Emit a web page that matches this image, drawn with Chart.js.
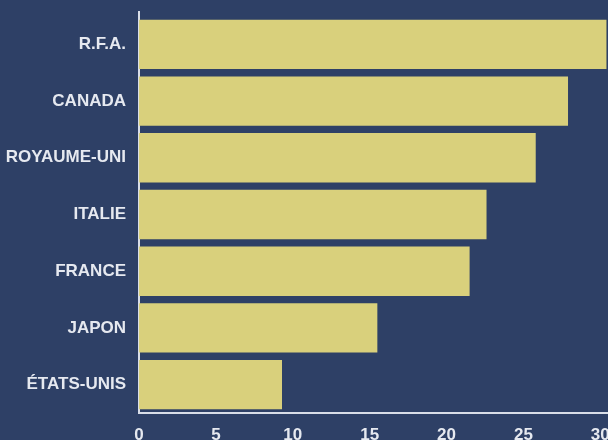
<!DOCTYPE html>
<html>
<head>
<meta charset="utf-8">
<script src="https://cdn.jsdelivr.net/npm/chart.js@4"></script>
<style>
  html, body { margin: 0; padding: 0; background: #2e4066; }
  #wrap { width: 608px; height: 440px; }
</style>
</head>
<body>
<div id="wrap"><canvas id="chart" width="608" height="440"></canvas></div>
<script>
  const countries = ['R.F.A.', 'CANADA', 'ROYAUME-UNI', 'ITALIE', 'FRANCE', 'JAPON', 'ÉTATS-UNIS'];
  const values = [30.4, 27.9, 25.8, 22.6, 21.5, 15.5, 9.3];
  const xTicks = [0, 5, 10, 15, 20, 25, 30];

  const textColor = '#e6e9f0';
  const lineColor = '#d9dee8';

  // the vertical axis line runs a few pixels above the first bar
  const axisTop = {
    id: 'axisTop',
    afterDraw(chart) {
      const c = chart.ctx, a = chart.chartArea;
      c.save();
      c.strokeStyle = lineColor;
      c.lineWidth = 2;
      c.beginPath();
      c.moveTo(a.left, a.top);
      c.lineTo(a.left, a.top - 5);
      c.stroke();
      c.restore();
    }
  };

  const ctx = document.getElementById('chart').getContext('2d');
  new Chart(ctx, {
    type: 'bar',
    data: {
      labels: countries,
      datasets: [{
        data: values,
        backgroundColor: '#d9d07c',
        borderWidth: 0,
        barPercentage: 0.87,
        categoryPercentage: 1
      }]
    },
    options: {
      indexAxis: 'y',
      responsive: false,
      animation: false,
      layout: { padding: { top: 16, right: 0, left: 0, bottom: 0 } },
      plugins: { legend: { display: false }, tooltip: { enabled: false } },
      scales: {
        x: {
          min: 0,
          max: 30.5,
          afterFit: s => { s.height = 27; s.paddingRight = 0; s.paddingLeft = 0; },
          afterBuildTicks: s => { s.ticks = xTicks.map(v => ({ value: v })); },
          grid: { display: false, drawTicks: false },
          border: { display: true, color: lineColor, width: 2 },
          ticks: {
            padding: 12,
            maxRotation: 0,
            color: textColor,
            font: { family: 'Liberation Sans', size: 17, weight: 'bold' }
          }
        },
        y: {
          afterFit: s => { s.width = 139; s.paddingTop = 0; s.paddingBottom = 0; },
          grid: { display: false, drawTicks: false },
          border: { display: true, color: lineColor, width: 2 },
          ticks: {
            padding: 13,
            color: textColor,
            font: { family: 'Liberation Sans', size: 17, weight: 'bold' }
          }
        }
      }
    },
    plugins: [axisTop]
  });
</script>
</body>
</html>
